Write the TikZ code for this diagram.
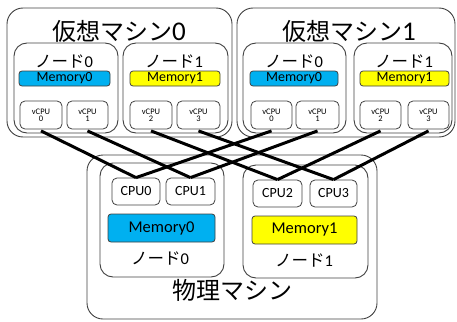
\documentclass[tikz,border=0pt]{standalone}
\usepackage{fontspec}
\setmainfont{Carlito}
\newfontfamily\cjk{Noto Sans CJK JP}
\definecolor{memblue}{HTML}{00B0F0}
\definecolor{memyel}{HTML}{FFFF00}
\definecolor{edge}{HTML}{404040}
\newcommand{\bigdigit}[1]{{\fontsize{27}{28}\selectfont #1}}
\begin{document}
\begin{tikzpicture}[x=1pt,y=-1pt,
  box/.style={draw=edge,line width=0.9pt,inner sep=0pt},
  vmbox/.style={box,rounded corners=16pt},
  nodebox/.style={box,rounded corners=13pt},
  membox/.style={box,rounded corners=3pt,line width=0.8pt,font=\fontsize{14}{15}\selectfont},
  vcpubox/.style={box,rounded corners=5pt,line width=0.8pt,font=\fontsize{8.5}{9}\selectfont,align=center},
  cpubox/.style={box,rounded corners=5pt,line width=0.8pt,font=\fontsize{14}{15}\selectfont},
  title/.style={inner sep=0pt,anchor=base,font=\fontsize{24}{26}\selectfont},
  nlabel/.style={inner sep=0pt,anchor=base,font=\fontsize{16.5}{17}\selectfont},
  link/.style={line width=3pt,black}]
\useasboundingbox (0,0) rectangle (457,321);
% virtual machine 0
\node[vmbox,minimum width=225pt,minimum height=129pt] (vm0) at (119.5,72.5) {};
\node[title] (vm0t) at (119,41) {{\cjk 仮想マシン}\bigdigit{0}};
\node[nodebox,minimum width=104pt,minimum height=90pt] (vm0n0) at (66,88) {};
\node[nodebox,minimum width=105pt,minimum height=90pt] (vm0n1) at (175.5,88) {};
\node[nlabel] (vm0n0t) at (64,67) {{\cjk ノード}0};
\node[nlabel] (vm0n1t) at (174,67) {{\cjk ノード}1};
\node[membox,fill=memblue,minimum width=91pt,minimum height=15pt] (vm0m0) at (64.5,78.5) {Memory0};
\node[membox,fill=memyel,minimum width=90pt,minimum height=15pt] (vm0m1) at (175,78.5) {Memory1};
\node[vcpubox,minimum width=42pt,minimum height=28pt] (a0) at (41,115) {vCPU\\[-2pt]0};
\node[vcpubox,minimum width=41pt,minimum height=28pt] (a1) at (87.5,115) {vCPU\\[-2pt]1};
\node[vcpubox,minimum width=42pt,minimum height=28pt] (a2) at (151,115) {vCPU\\[-2pt]2};
\node[vcpubox,minimum width=43pt,minimum height=28pt] (a3) at (198.5,115) {vCPU\\[-2pt]3};
% virtual machine 1
\node[vmbox,minimum width=218pt,minimum height=129pt] (vm1) at (346,72.5) {};
\node[title] (vm1t) at (349,41) {{\cjk 仮想マシン}\bigdigit{1}};
\node[nodebox,minimum width=103pt,minimum height=90pt] (vm1n0) at (294.5,88) {};
\node[nodebox,minimum width=98pt,minimum height=90pt] (vm1n1) at (403,88) {};
\node[nlabel] (vm1n0t) at (294,67) {{\cjk ノード}0};
\node[nlabel] (vm1n1t) at (404,67) {{\cjk ノード}1};
\node[membox,fill=memblue,minimum width=88pt,minimum height=15pt] (vm1m0) at (294,78.5) {Memory0};
\node[membox,fill=memyel,minimum width=89pt,minimum height=15pt] (vm1m1) at (404.5,78.5) {Memory1};
\node[vcpubox,minimum width=41pt,minimum height=28pt] (b0) at (271.5,115) {vCPU\\[-2pt]0};
\node[vcpubox,minimum width=43pt,minimum height=28pt] (b1) at (317.5,115) {vCPU\\[-2pt]1};
\node[vcpubox,minimum width=41pt,minimum height=28pt] (b2) at (380.5,115) {vCPU\\[-2pt]2};
\node[vcpubox,minimum width=41pt,minimum height=28pt] (b3) at (428.5,115) {vCPU\\[-2pt]3};
% physical machine
\node[vmbox,minimum width=290pt,minimum height=164pt] (pm) at (232,237) {};
\node[nodebox,minimum width=124pt,minimum height=114pt] (pn0) at (162,220) {};
\node[nodebox,minimum width=125pt,minimum height=113pt] (pn1) at (305.5,221.5) {};
\node[cpubox,minimum width=48pt,minimum height=27pt] (c0) at (136,191.5) {CPU0};
\node[cpubox,minimum width=49pt,minimum height=27pt] (c1) at (190.5,191.5) {CPU1};
\node[cpubox,minimum width=49pt,minimum height=27pt] (c2) at (277.5,193.5) {CPU2};
\node[cpubox,minimum width=47pt,minimum height=27pt] (c3) at (333.5,193.5) {CPU3};
\node[membox,fill=memblue,minimum width=107pt,minimum height=28pt,font=\fontsize{16.5}{17}\selectfont] (pm0) at (161.5,228) {Memory0};
\node[membox,fill=memyel,minimum width=105pt,minimum height=28pt,font=\fontsize{16.5}{17}\selectfont] (pm1) at (304.5,230) {Memory1};
\node[nlabel] (pn0t) at (160,264) {{\cjk ノード}0};
\node[nlabel] (pn1t) at (304,266) {{\cjk ノード}1};
\node[title] (pmt) at (232,299.5) {{\cjk 物理マシン}};
% links
\draw[link] ([yshift=-1.5pt]a0.south) -- (c0.north);
\draw[link] ([yshift=-1.5pt]a1.south) -- (c1.north);
\draw[link] ([yshift=-1.5pt]a2.south) -- (c2.north);
\draw[link] ([yshift=-1.5pt]a3.south) -- (c3.north);
\draw[link] ([yshift=-1.5pt]b0.south) -- (c0.north);
\draw[link] ([yshift=-1.5pt]b1.south) -- (c1.north);
\draw[link] ([yshift=-1.5pt]b2.south) -- (c2.north);
\draw[link] ([yshift=-1.5pt]b3.south) -- (c3.north);
\end{tikzpicture}
\end{document}
